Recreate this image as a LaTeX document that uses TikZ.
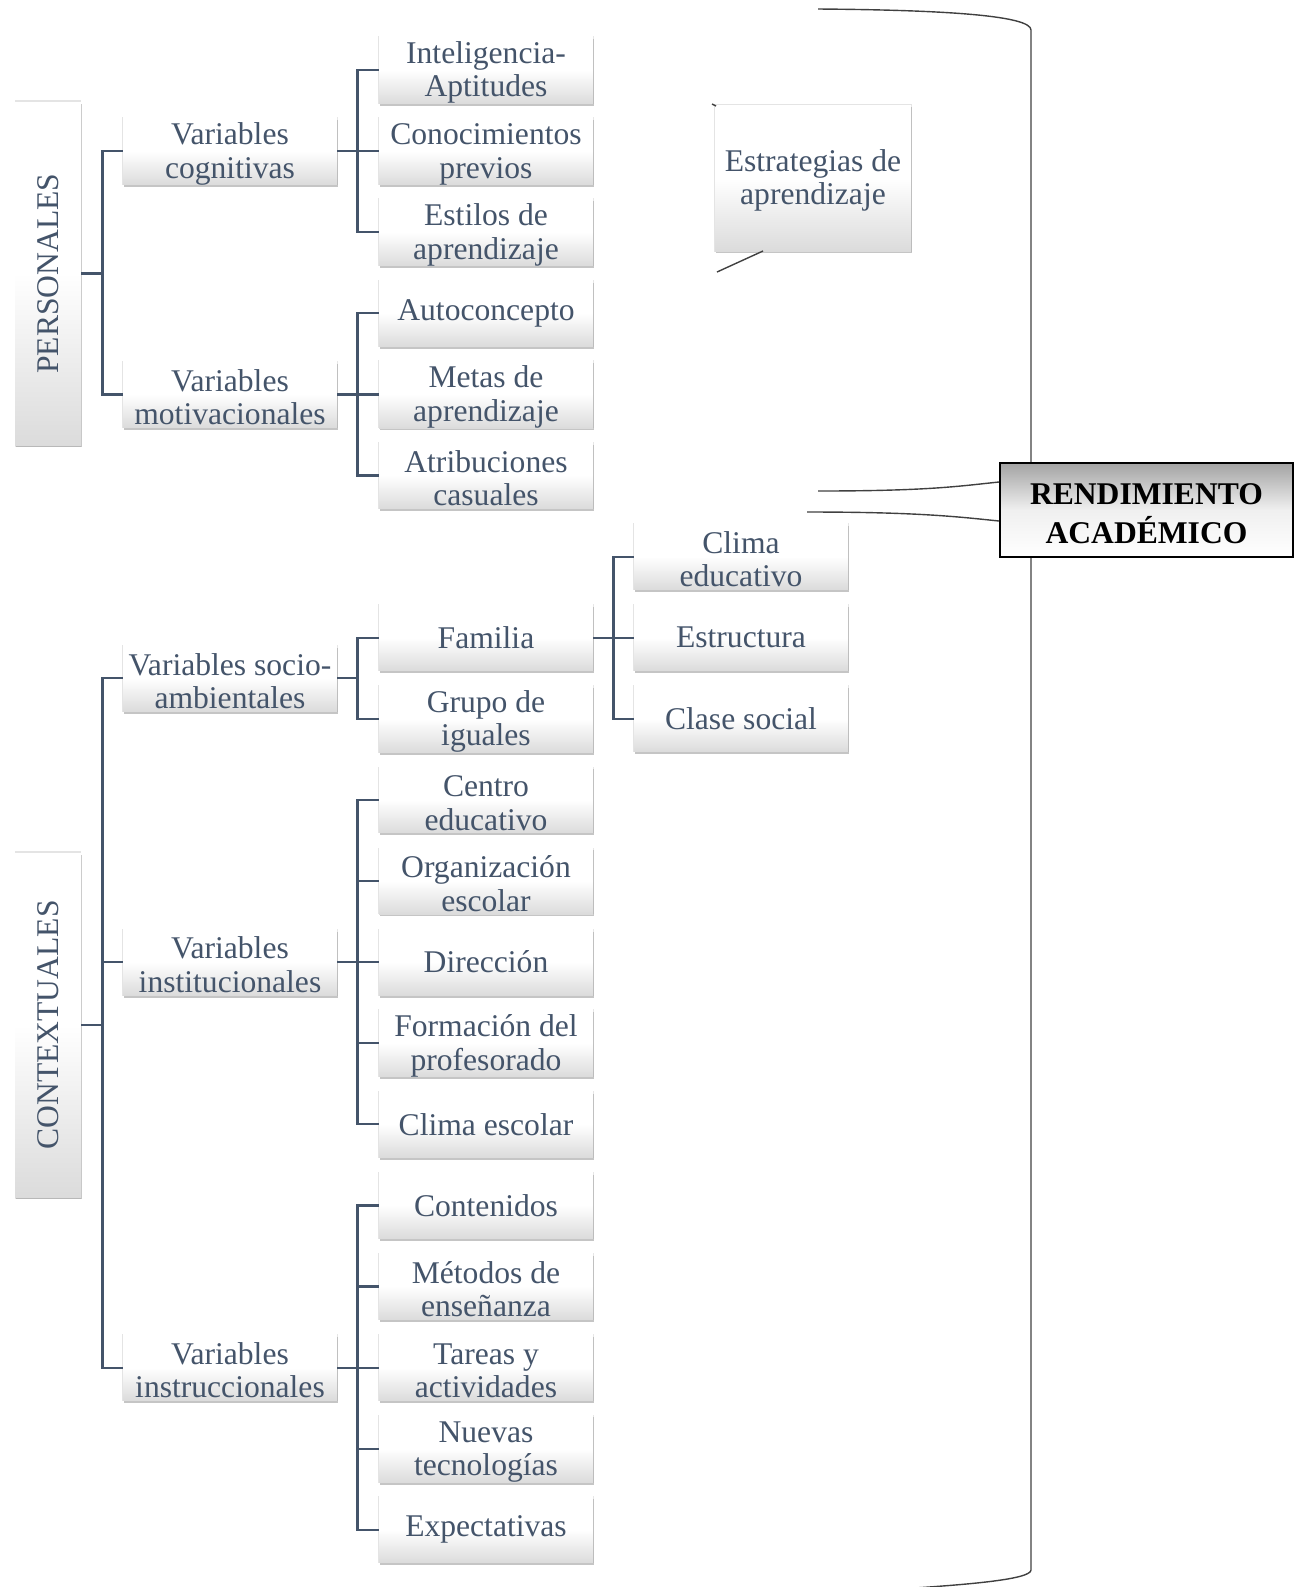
\documentclass[tikz,border=0pt]{standalone}
\usepackage{fontspec}
\setmainfont{Liberation Serif}
\usetikzlibrary{shadows}
\definecolor{txt}{RGB}{68,84,106}
\definecolor{lnk}{RGB}{68,84,106}
\newcommand{\tlift}{\rule{0pt}{13.6pt}}
\begin{document}
\begin{tikzpicture}[x=0.5pt,y=-0.5pt,
  box/.style={minimum width=107pt, minimum height=33pt, inner sep=0pt, align=center,
    text=txt, font=\fontsize{15.8}{16.7}\selectfont,
    top color=white, bottom color=black!14, middle color=white,
    general shadow={shadow xshift=0pt, shadow yshift=0pt, shadow scale=1.012, fill=black!15, opacity=0.7},
    drop shadow={shadow xshift=0.5pt, shadow yshift=-1.2pt, fill=black!45, opacity=0.5}},
  sidebox/.style={box, minimum width=33pt},
  conn/.style={draw=lnk, line width=1.1pt},
  brk/.style={draw=black!75, line width=0.7pt}]
\useasboundingbox (0,0) rectangle (1301,1587);

% bracket
\draw[brk] (818,9) .. controls (950,10) and (1031,16) .. (1031,30) -- (1031,1570)
  .. controls (1031,1580) and (960,1585) .. (900,1589);

% left column
\node[sidebox, minimum height=171.5pt] (pers) at (48,273.5) {\rotatebox{90}{PERSONALES}};
\node[sidebox, minimum height=172pt] (cont) at (48,1025) {\rotatebox{90}{CONTEXTUALES}};

% level 1
\node[box] (cog) at (230,151.1) {\tlift Variables\\cognitivas};
\node[box] (mot) at (230,394.4) {\tlift Variables\\motivacionales};
\node[box] (soc) at (230,678.3) {\tlift Variables socio-\\ambientales};
\node[box] (ins) at (230,962.1) {\tlift Variables\\institucionales};
\node[box] (inst) at (230,1367.6) {\tlift Variables\\instruccionales};

% level 2
\node[box] (int) at (486,70) {\tlift Inteligencia-\\Aptitudes};
\node[box] (con) at (486,151.1) {\tlift Conocimientos\\previos};
\node[box] (est) at (486,232.2) {\tlift Estilos de\\aprendizaje};
\node[box] (auto) at (486,313.3) {Autoconcepto};
\node[box] (met) at (486,394.4) {\tlift Metas de\\aprendizaje};
\node[box] (atr) at (486,475.5) {\tlift Atribuciones\\casuales};
\node[box] (fam) at (486,637.7) {Familia};
\node[box] (gru) at (486,718.8) {\tlift Grupo de\\iguales};
\node[box] (cen) at (486,799.9) {\tlift Centro\\educativo};
\node[box] (org) at (486,881) {\tlift Organización\\escolar};
\node[box] (dir) at (486,962.1) {Dirección};
\node[box] (form) at (486,1043.2) {\tlift Formación del\\profesorado};
\node[box] (cle) at (486,1124.3) {Clima escolar};
\node[box] (conte) at (486,1205.4) {Contenidos};
\node[box] (mdt) at (486,1286.5) {\tlift Métodos de\\enseñanza};
\node[box] (tar) at (486,1367.6) {\tlift Tareas y\\actividades};
\node[box] (nue) at (486,1448.7) {\tlift Nuevas\\tecnologías};
\node[box] (expe) at (486,1529.8) {Expectativas};

% level 3
\node[box] (clied) at (741,556.6) {\tlift Clima\\educativo};
\node[box] (estru) at (741,637.7) {Estructura};
\node[box] (cla) at (741,718.8) {Clase social};

% strategies
\node[box, minimum width=98pt, minimum height=73pt] (strat) at (813,178) {\tlift Estrategias de\\aprendizaje};
\coordinate (s1) at (717,272);
\coordinate (s2) at (712,104);
\draw[brk] (s1) -- (763,251);
\draw[brk] (s2) -- (716,106);

% result
\node[draw=black, line width=1pt, top color=black!36, bottom color=white, middle color=black!6,
  minimum width=146.5pt, minimum height=47pt, inner sep=0pt, align=center,
  font=\bfseries\fontsize{15.8}{19.3}\selectfont] (rend) at (1146.5,510) {\rule{0pt}{14pt}RENDIMIENTO\\ACADÉMICO};
\coordinate (r1) at (818,491);
\coordinate (r2) at (807,512);
\draw[brk] (r1) .. controls (930,491) and (960,486) .. ([yshift=14pt]rend.west);
\draw[brk] (r2) .. controls (920,512) and (960,517) .. ([yshift=-5.5pt]rend.west);

% connectors
\foreach \c in {cog,mot} \draw[conn] (pers.east) -- ++(21,0) |- (\c.west);
\foreach \c in {soc,ins,inst} \draw[conn] (cont.east) -- ++(21,0) |- (\c.west);
\foreach \c in {int,con,est} \draw[conn] (cog.east) -- ++(20,0) |- (\c.west);
\foreach \c in {auto,met,atr} \draw[conn] (mot.east) -- ++(20,0) |- (\c.west);
\foreach \c in {fam,gru} \draw[conn] (soc.east) -- ++(20,0) |- (\c.west);
\foreach \c in {cen,org,dir,form,cle} \draw[conn] (ins.east) -- ++(20,0) |- (\c.west);
\foreach \c in {conte,mdt,tar,nue,expe} \draw[conn] (inst.east) -- ++(20,0) |- (\c.west);
\foreach \c in {clied,estru,cla} \draw[conn] (fam.east) -- ++(20,0) |- (\c.west);
\end{tikzpicture}
\end{document}
